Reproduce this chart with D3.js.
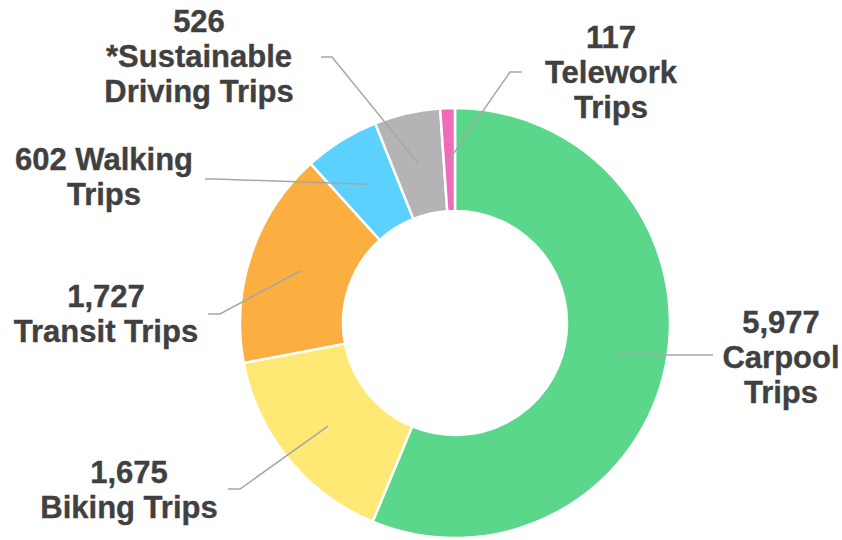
<!DOCTYPE html>
<html>
<head>
<meta charset="utf-8">
<script src="https://cdn.jsdelivr.net/npm/d3@7"></script>
<style>
  html, body { margin: 0; padding: 0; background: #fff; }
  svg { display: block; }
  text { font-family: "Liberation Sans", Arial, sans-serif; font-weight: bold; fill: #404040; stroke: #404040; stroke-width: 0.35px; }
</style>
</head>
<body>
<svg id="chart" width="842" height="540"></svg>
<script>
// data, clockwise from 12 o'clock
const categories = ['Carpool', 'Biking', 'Transit', 'Walking', 'Sustainable', 'Telework'];
const values = [5977, 1675, 1727, 602, 526, 117];
const labelLines = [
  ['5,977', 'Carpool', 'Trips'],
  ['1,675', 'Biking Trips'],
  ['1,727', 'Transit Trips'],
  ['602 Walking', 'Trips'],
  ['526', '*Sustainable', 'Driving Trips'],
  ['117', 'Telework', 'Trips']
];
const colors = ['#5AD78B', '#FFE873', '#FBAF41', '#5CD1FE', '#B4B4B6', '#F06CB8'];

// label placement (text centre x, first baseline y, elbow, line end)
const labelLayout = [
  {x: 781, y: 333, elbow: null, end: [713, null]},
  {x: 129, y: 483, elbow: [240, 489], end: [228, 489]},
  {x: 106, y: 307, elbow: [220, 314], end: [208, 314]},
  {x: 104, y: 170, elbow: [215, 179], end: [205, 179]},
  {x: 199, y: 32, elbow: [332, 57], end: [321, 57]},
  {x: 611, y: 48, elbow: [510, 72], end: [522, 72]}
];

const cx = 455, cy = 323;
const outerR = 215, innerR = 112;
const lineHeight = 35;

const svg = d3.select('#chart');
const g = svg.append('g').attr('transform', `translate(${cx},${cy})`);

const pie = d3.pie().sort(null).value(d => d)(values);
const arc = d3.arc().innerRadius(innerR).outerRadius(outerR);

g.selectAll('path.slice')
  .data(pie)
  .join('path')
  .attr('class', 'slice')
  .attr('d', arc)
  .attr('fill', (d, i) => colors[i])
  .attr('stroke', '#fff')
  .attr('stroke-width', 2.5)
  .attr('stroke-linejoin', 'round');

// leader lines
const line = d3.line();
pie.forEach((d, i) => {
  const c = arc.centroid(d);
  const p0 = [c[0] + cx, c[1] + cy];
  const lay = labelLayout[i];
  const pts = [p0];
  if (lay.elbow) pts.push(lay.elbow);
  pts.push([lay.end[0], lay.end[1] === null ? p0[1] : lay.end[1]]);
  svg.append('path')
    .attr('d', line(pts))
    .attr('fill', 'none')
    .attr('stroke', '#A6A6A6')
    .attr('stroke-width', 1.5);
});

// labels
labelLayout.forEach((lay, i) => {
  const t = svg.append('text')
    .attr('x', lay.x)
    .attr('y', lay.y)
    .attr('text-anchor', 'middle')
    .style('font-size', '31px');
  labelLines[i].forEach((s, j) => {
    t.append('tspan')
      .attr('x', lay.x)
      .attr('y', lay.y + j * lineHeight)
      .text(s);
  });
});
</script>
</body>
</html>
